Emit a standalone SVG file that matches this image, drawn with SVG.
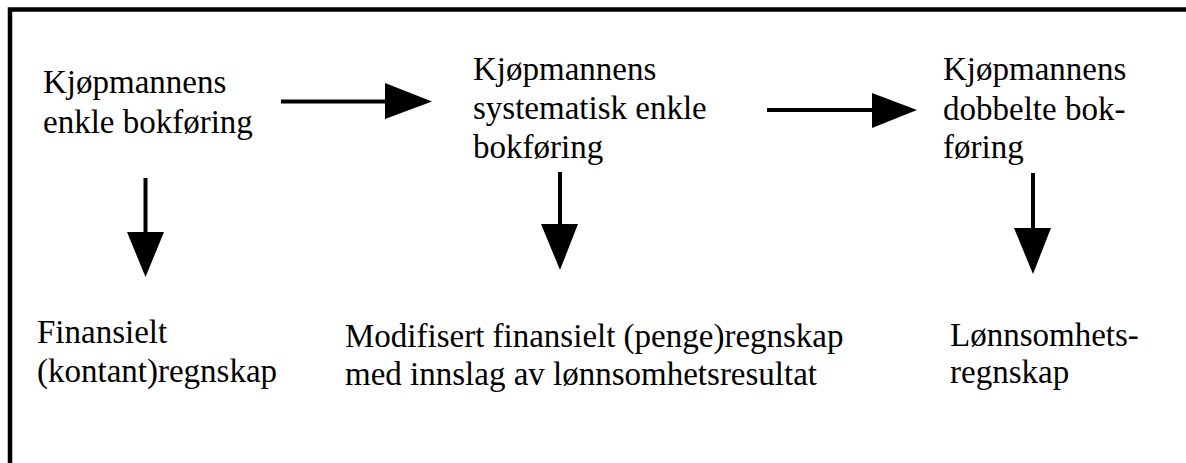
<svg xmlns="http://www.w3.org/2000/svg" width="1186" height="463" viewBox="0 0 1186 463">
<style>
.ln{stroke:#000;stroke-width:4;fill:none}
.hd{fill:#000}
</style>
<rect x="0" y="0" width="1186" height="463" fill="#fff"/>
<path d="M10 470 V9.5 H1200" fill="none" stroke="#000" stroke-width="4.5"/>
<g font-family="Liberation Serif" font-size="33" fill="#000">
<g id="n1"><text x="43" y="93">Kjøpmannens</text><text x="43" y="133">enkle bokføring</text></g>
<g id="n2"><text x="473" y="80">Kjøpmannens</text><text x="473" y="119">systematisk enkle</text><text x="473" y="158">bokføring</text></g>
<g id="n3"><text x="943" y="80">Kjøpmannens</text><text x="943" y="120">dobbelte bok-</text><text x="943" y="158">føring</text></g>
<g id="n4"><text x="37" y="343">Finansielt</text><text x="37" y="382">(kontant)regnskap</text></g>
<g id="n5"><text x="345" y="347">Modifisert finansielt (penge)regnskap</text><text x="345" y="385">med innslag av lønnsomhetsresultat</text></g>
<g id="n6"><text x="950" y="346">Lønnsomhets-</text><text x="950" y="383">regnskap</text></g>
</g>
<g id="connectors">
<line class="ln" x1="281" y1="101.5" x2="387" y2="101.5"/><polygon class="hd" points="385,83 432,101.5 385,119"/>
<line class="ln" x1="767" y1="110" x2="874" y2="110"/><polygon class="hd" points="872,93 917,110 872,128"/>
<line class="ln" x1="145.5" y1="178" x2="145.5" y2="234"/><polygon class="hd" points="127,232 164,232 145.5,277"/>
<line class="ln" x1="560" y1="172" x2="560" y2="226"/><polygon class="hd" points="541,224 578,224 560,270"/>
<line class="ln" x1="1033" y1="173" x2="1033" y2="230"/><polygon class="hd" points="1014,228 1051,228 1033,274"/>
</g>
</svg>
